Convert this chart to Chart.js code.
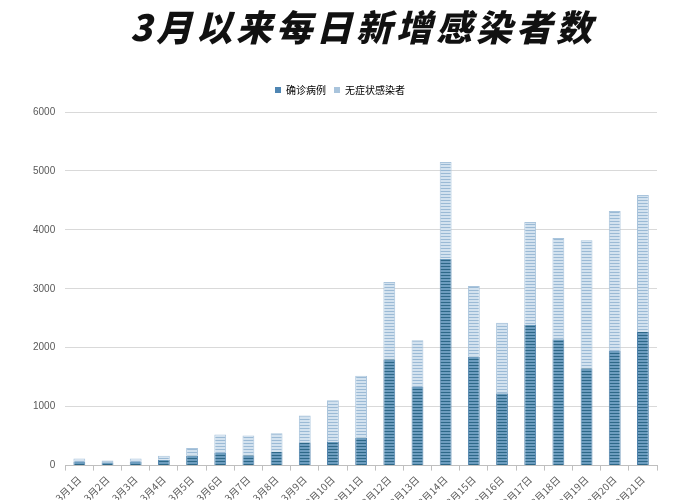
<!DOCTYPE html>
<html>
<head>
<meta charset="utf-8">
<script src="https://cdn.jsdelivr.net/npm/chart.js@4/dist/chart.umd.min.js"></script>
<style>
  html, body { margin: 0; padding: 0; background: #fff; }
  #wrap { position: relative; width: 700px; height: 500px; overflow: hidden; }
  #title {
    position: absolute; left: 0; top: 2px; width: 700px; padding-left: 26px; box-sizing: border-box;
    text-align: center; font-family: "Noto Sans CJK SC", sans-serif; font-weight: 900; font-style: italic;
    font-size: 36px; letter-spacing: 4px; line-height: 46px; color: #111;
  }
</style>
</head>
<body>
<div id="wrap">
  <div id="title">3月以来每日新增感染者数</div>
  <canvas id="chart" width="700" height="511"></canvas>
</div>
<script>
const days = ['3月1日', '3月2日', '3月3日', '3月4日', '3月5日', '3月6日', '3月7日', '3月8日', '3月9日', '3月10日', '3月11日',
    '3月12日', '3月13日', '3月14日', '3月15日', '3月16日', '3月17日', '3月18日', '3月19日', '3月20日', '3月21日'];
const confirmed = [60, 55, 60, 100, 170, 214, 175, 232, 397, 400, 476, 1803, 1333, 3511, 1848, 1226, 2385, 2142, 1650, 1944, 2267];
const asymptomatic = [59, 30, 59, 69, 130, 313, 334, 316, 453, 710, 1048, 1312, 792, 1642, 1200, 1199, 1749, 1720, 2173, 2377, 2325];
const yTicks = [0, 1000, 2000, 3000, 4000, 5000, 6000];

// horizontal stripes like the original picture
function stripes(base, line) {
    const c = document.createElement('canvas');
    c.width = 4; c.height = 3;
    const g = c.getContext('2d');
    g.fillStyle = base;
    g.fillRect(0, 0, 4, 3);
    g.fillStyle = line;
    g.fillRect(0, 2, 4, 1);
    return g.createPattern(c, 'repeat');
}

// a bit more room under the legend
const legendGap = {
    id: 'legendGap',
    beforeInit(chart) {
        const fit = chart.legend.fit;
        chart.legend.fit = function () {
            fit.bind(chart.legend)();
            this.height += 7;
        };
    }
};

const ctx = document.getElementById('chart').getContext('2d');
new Chart(ctx, {
    type: 'bar',
    data: {
        labels: days,
        datasets: [
            {
                label: '确诊病例',
                data: confirmed,
                backgroundColor: stripes('#6d9dbf', '#2d6888'),
                borderColor: '#4f82ac',
                borderWidth: { left: 1, right: 1 },
                barPercentage: 0.42,
                categoryPercentage: 1
            },
            {
                label: '无症状感染者',
                data: asymptomatic,
                backgroundColor: stripes('#d3e2ef', '#9bbad5'),
                borderColor: '#a9c4dc',
                borderWidth: { left: 1, right: 1, top: 1 },
                barPercentage: 0.42,
                categoryPercentage: 1
            }
        ]
    },
    plugins: [legendGap],
    options: {
        responsive: false,
        animation: false,
        layout: { padding: { left: 23, right: 43, top: 77, bottom: 0 } },
        plugins: {
            legend: {
                position: 'top',
                labels: {
                    boxWidth: 6,
                    boxHeight: 6,
                    color: '#595959',
                    padding: 8,
                    font: { family: '"Noto Sans CJK SC"', size: 10 },
                    generateLabels: chart => chart.data.datasets.map((d, i) => ({
                        text: d.label,
                        fillStyle: i === 0 ? '#4f86b3' : '#a9c4dc',
                        strokeStyle: 'transparent',
                        lineWidth: 0,
                        datasetIndex: i
                    }))
                }
            },
            tooltip: { enabled: false }
        },
        scales: {
            x: {
                stacked: true,
                grid: { display: true, drawOnChartArea: false, tickLength: 5, color: '#bfbfbf' },
                border: { color: '#bfbfbf' },
                ticks: {
                    color: '#595959',
                    maxRotation: 45,
                    minRotation: 45,
                    autoSkip: false,
                    font: { family: '"Noto Sans CJK SC"', size: 10 }
                }
            },
            y: {
                stacked: true,
                min: 0,
                max: 6000,
                afterBuildTicks: axis => { axis.ticks = yTicks.map(v => ({ value: v })); },
                grid: { color: '#d9d9d9', drawTicks: false },
                border: { display: false },
                ticks: {
                    color: '#595959',
                    padding: 10,
                    callback: v => String(v),
                    font: { family: '"Liberation Sans", Arial', size: 10 }
                }
            }
        }
    }
});
</script>
</body>
</html>
